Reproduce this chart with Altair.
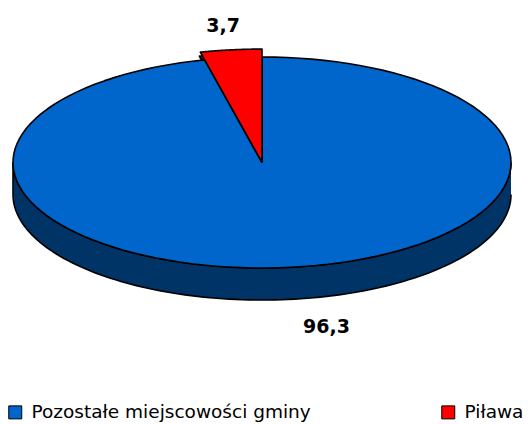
import altair as alt
import pandas as pd

# ---- data ----
categories = ["Pozostałe miejscowości gminy", "Piława"]
values = [96.3, 3.7]
labels = ["96,3", "3,7"]

# ---- style ----
top_colors = ["#0066CC", "#FF0000"]
side_colors = ["#003366", "#800000"]
EXPLODED = "Piława"

W, H = 515, 416          # drawing area in px
CX, CY = 254, 154.5      # pie centre
A, B = 249, 105.5        # ellipse semi-axes
DEPTH = 32               # pie thickness
POP = 1.075              # radial pop-out of exploded slice
N = 120                  # arc resolution
KX, KY = 1.09, 1.28      # label radial factors

df = pd.DataFrame({"category": categories, "value": values,
                   "label": labels, "idx": list(range(len(categories)))})

side_expr = "[" + ",".join(f"'{c}'" for c in side_colors) + "][datum.idx]"

xs = alt.X("px:Q", scale=alt.Scale(domain=[0, W], nice=False, zero=False), axis=None)
ys = alt.Y("py:Q", scale=alt.Scale(domain=[0, H], nice=False, zero=False, reverse=True), axis=None)


def base():
    return (
        alt.Chart(df)
        .transform_joinaggregate(total="sum(value)")
        .transform_window(cum="sum(value)", sort=[alt.SortField("idx")], frame=[None, 0])
        .transform_calculate(
            t0="2*PI*(datum.cum - datum.value)/datum.total",
            t1="2*PI*datum.cum/datum.total",
            tm="PI*(2*datum.cum - datum.value)/datum.total",
            k=f"datum.category == '{EXPLODED}' ? {POP} : 1",
            side=side_expr,
        )
    )


def slice_poly(chart, dx=0, dy=0):
    return (
        chart.transform_calculate(p=f"sequence(-1, {N + 2})")
        .transform_flatten(["p"])
        .transform_calculate(
            c=f"datum.p < 0 || datum.p > {N}",
            t=f"datum.t0 + (datum.t1 - datum.t0) * clamp(datum.p, 0, {N}) / {N}",
        )
        .transform_calculate(
            px=f"{CX + dx} + (datum.c ? 0 : {A} * datum.k * sin(datum.t))",
            py=f"{CY + dy} - (datum.c ? 0 : {B} * datum.k * cos(datum.t))",
        )
    )


fill_scale = alt.Scale(domain=categories, range=top_colors)
legend = alt.Legend(
    title=None, orient="none", direction="horizontal", columns=2,
    legendX=-2, legendY=395, padding=0,
    columnPadding=128,
    symbolType="square", symbolSize=169, symbolStrokeColor="black",
    symbolStrokeWidth=1, symbolOpacity=1,
    labelFont="DejaVu Sans", labelFontSize=18.5, labelColor="black",
    labelOffset=7, labelLimit=500,
)

line_kw = dict(stroke="black", strokeWidth=1.6, strokeJoin="round")

# front wall (visible half of the side)
walls = (
    base()
    .transform_calculate(ws="max(datum.t0, PI/2)", we="min(datum.t1, 3*PI/2)")
    .transform_filter("datum.ws < datum.we")
    .transform_calculate(p=f"sequence(0, {2 * N + 2})")
    .transform_flatten(["p"])
    .transform_calculate(
        q=f"datum.p <= {N} ? datum.p : {2 * N + 1} - datum.p",
    )
    .transform_calculate(
        t=f"datum.ws + (datum.we - datum.ws) * datum.q / {N}",
    )
    .transform_calculate(
        px=f"{CX} + {A} * datum.k * sin(datum.t)",
        py=f"{CY} - {B} * datum.k * cos(datum.t) + (datum.p <= {N} ? 0 : {DEPTH})",
    )
    .mark_line(**line_kw)
    .encode(x=xs, y=ys, order="p:Q", detail="category:N",
            fill=alt.Fill("side:N", scale=None, legend=None))
)

# cut face of the exploded slice
cut = (
    slice_poly(base().transform_filter(f"datum.category == '{EXPLODED}'"), dx=-1, dy=4)
    .mark_line(**line_kw)
    .encode(x=xs, y=ys, order="p:Q", detail="category:N",
            fill=alt.Fill("side:N", scale=None, legend=None))
)

tops_main = (
    slice_poly(base().transform_filter(f"datum.category != '{EXPLODED}'"))
    .mark_line(**line_kw)
    .encode(x=xs, y=ys, order="p:Q", detail="category:N",
            fill=alt.Fill("category:N", scale=fill_scale, legend=legend))
)

tops_pop = (
    slice_poly(base().transform_filter(f"datum.category == '{EXPLODED}'"))
    .mark_line(**line_kw)
    .encode(x=xs, y=ys, order="p:Q", detail="category:N",
            fill=alt.Fill("category:N", scale=fill_scale, legend=None))
)

texts = (
    base()
    .transform_calculate(
        px=f"{CX} + {A} * {KX} * sin(datum.tm)",
        py=f"{CY} - {B} * {KY} * cos(datum.tm) + (cos(datum.tm) < 0 ? {DEPTH} : 0)",
    )
    .mark_text(font="DejaVu Sans", fontWeight="bold", fontSize=19, color="black",
               align=alt.expr("sin(datum.tm) > 0 ? 'left' : 'right'"),
               baseline="alphabetic", dx=9.5, dy=4)
    .encode(x=xs, y=ys, text="label:N")
)

chart = (
    alt.layer(walls, cut, tops_main, tops_pop, texts)
    .resolve_scale(fill="independent")
    .properties(width=W, height=H, padding=0, autosize=alt.AutoSizeParams(type="none"),
                background="white")
    .configure_view(stroke=None)
)

chart.save("out.html", embed_options={"renderer": "svg", "actions": False})
